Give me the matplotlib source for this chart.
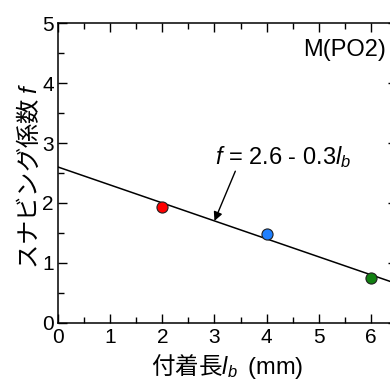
import matplotlib
matplotlib.use("Agg")
import matplotlib.pyplot as plt
import numpy as np
from matplotlib.ticker import MultipleLocator

plt.rcParams['font.family'] = ['Liberation Sans', 'Noto Sans CJK JP', 'DejaVu Sans']
plt.rcParams['mathtext.fontset'] = 'custom'
plt.rcParams['mathtext.rm'] = 'Liberation Sans'
plt.rcParams['mathtext.it'] = 'Liberation Sans:italic'

# data
lengths = [2, 4, 6]
snubbing = [1.93, 1.48, 0.75]
colors = ['#ff0000', '#1e7fff', '#118011']
fit_intercept = 2.6
fit_slope = -0.3
fit_x = [0, 6.5]

fig = plt.figure(figsize=(3.90, 3.83), dpi=100)
ax = fig.add_axes([58/390, 60.3/383, (397-58)/390, (322.7-23.3)/383])

fx = np.array(fit_x)
ax.plot(fx, fit_intercept + fit_slope*fx, color='black', lw=1.1, zorder=2)
for x, y, c in zip(lengths, snubbing, colors):
    ax.plot(x, y, 'o', ms=8, mfc=c, mec='#202020', mew=0.8, zorder=3)

ax.set_xlim(0, 6.5)
ax.set_ylim(0, 5)
ax.xaxis.set_major_locator(MultipleLocator(1))
ax.xaxis.set_minor_locator(MultipleLocator(0.5))
ax.yaxis.set_major_locator(MultipleLocator(1))
ax.yaxis.set_minor_locator(MultipleLocator(0.5))
ax.tick_params(which='both', direction='in', top=True, right=True, width=1.0,
               labelsize=15)
ax.tick_params(which='major', length=6.5)
ax.tick_params(which='minor', length=4.3)
ax.tick_params(axis='x', pad=4)
ax.tick_params(axis='y', pad=3)
for s in ax.spines.values():
    s.set_linewidth(1.1)

ax.set_xlabel('付着長$l_b$  $\\mathrm{(mm)}$', fontsize=17,
              family='Noto Sans CJK JP')
ax.set_ylabel('スナビング係数 $f$', fontsize=17.5, family='Noto Sans CJK JP')
ax.xaxis.set_label_coords(0.5, -0.098)
ax.yaxis.set_label_coords(-0.045, 0.49)

ax.text(6.28, 4.55, 'M(PO2)', fontsize=17, ha='right', va='center')
ax.text(3.015, 2.77, '$f$ = 2.6 - 0.3$l_b$', fontsize=17, ha='left', va='center')
ax.annotate('', xy=(3.0, 1.7), xytext=(3.4, 2.53),
            arrowprops=dict(arrowstyle='-|>', color='black', lw=1.0,
                            mutation_scale=13, shrinkA=0, shrinkB=0))

fig.savefig('out.png', dpi=100)
